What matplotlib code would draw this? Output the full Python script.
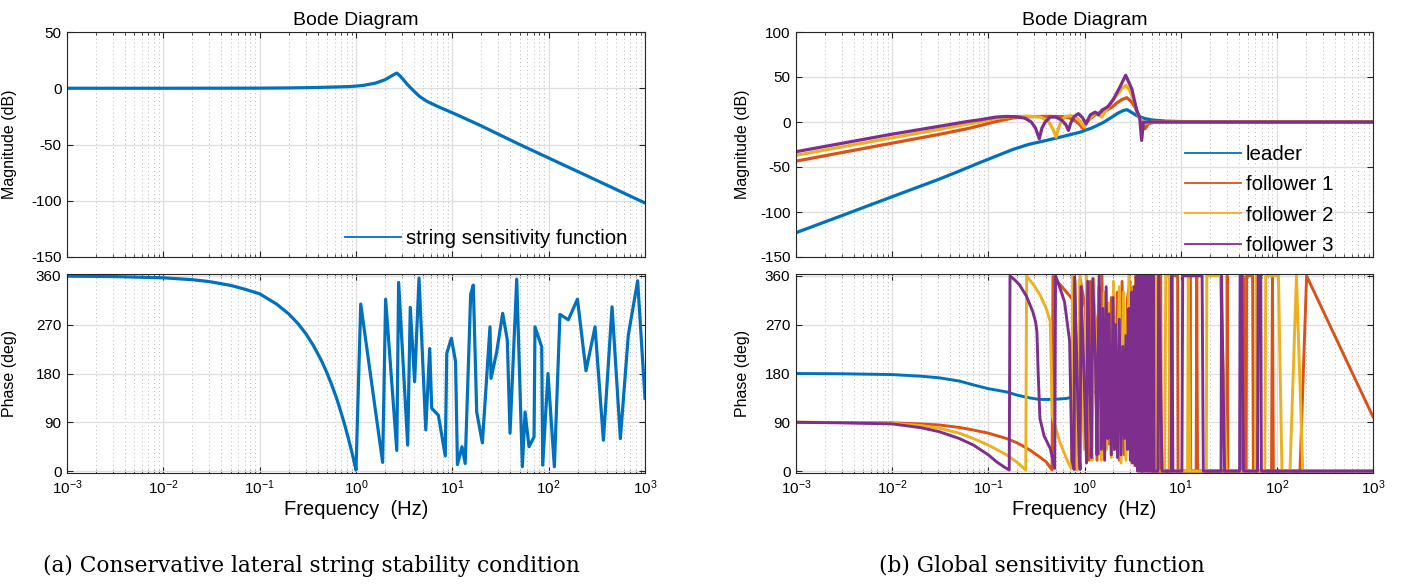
import matplotlib
matplotlib.use("Agg")
import matplotlib.pyplot as plt
from matplotlib.lines import Line2D
from matplotlib.ticker import LogLocator, NullFormatter, FixedLocator

# ---- left panel: string sensitivity function ----
SSF_MAG_F = [0.001, 0.01, 0.1, 0.2, 0.4, 0.8, 1.0, 1.2, 1.6, 2.0, 2.4, 2.65, 2.85, 3.1, 3.4,
             3.7, 4.1, 4.6, 5.5, 6.9, 8.5, 10, 12, 15, 20, 50, 100, 300, 1000]
SSF_MAG = [0, 0, 0.1, 0.3, 0.7, 1.4, 1.9, 2.6, 4.6, 7.6, 11.5, 13.5, 11.2, 7.7, 3.6,
           0.3, -3.5, -7.5, -11.8, -15.8, -19.2, -21.8, -24.8, -28.6, -33.5, -50, -62, -81, -102]

SSF_PH_F = [0.001, 0.003, 0.01, 0.02, 0.03, 0.05, 0.07, 0.1, 0.15, 0.2, 0.25, 0.3, 0.36, 0.44,
            0.5, 0.56, 0.63, 0.7, 0.77, 0.84, 0.9, 0.95, 1.0,
            1.12, 1.89, 2.03, 2.65, 2.77, 3.44, 3.66, 4.06, 4.51, 5.30, 5.82, 6.11, 7.16, 8.45,
            8.75, 9.77, 10.8, 11.3, 12.6, 13.6, 15.5, 16.5, 17.9, 20.5, 24.6, 25.2, 28.9, 33.3,
            37.2, 39.7, 46.6, 53.3, 56.9, 62.5, 70.5, 72.1, 84.7, 86.7, 98.4, 114.6, 131, 160,
            199, 244, 303, 370, 455, 555, 671, 839, 1000]
SSF_PH = [359.5, 358.8, 356.5, 353, 349.5, 342.5, 335.5, 327, 308, 290, 272, 254, 232, 203,
          181, 159, 134, 108, 83, 58, 37, 19, 2,
          308, 16, 317, 38, 348, 48, 302, 165, 356, 76, 226, 116, 103, 28,
          217, 245, 202, 12, 45, 14, 326, 343, 109, 52, 266, 171, 220, 291,
          242, 70, 354, 8, 109, 45, 63, 266, 229, 11, 180, 8, 289, 279,
          317, 185, 266, 57, 303, 60, 251, 351, 134]

# ---- right panel: global sensitivity function ----
SERIES = ["leader", "follower 1", "follower 2", "follower 3"]
COLORS = ["#0072BD", "#D95319", "#EDB120", "#7E2F8E"]

LEADER_MAG_F = [0.001, 0.003, 0.01, 0.03, 0.05, 0.082, 0.12, 0.18, 0.26, 0.4, 0.6, 0.9, 1.2,
                1.57, 1.9, 2.2, 2.5, 2.75, 3.0, 3.5, 4.2, 5.0, 7.0, 12, 20, 1000]
LEADER_MAG = [-123, -104, -83, -64, -54.5, -45, -38, -30.5, -25, -20.5, -16, -11.3, -6.5,
              -0.5, 5, 9.5, 12.5, 13.7, 11.5, 7, 4, 2.3, 1, 0.3, 0, 0]

F1_MAG_F = [0.001, 0.01, 0.03, 0.06, 0.082, 0.12, 0.18, 0.25, 0.4, 0.6, 0.7, 0.77, 0.88, 0.97,
            1.05, 1.14, 1.34, 1.70, 1.95, 2.16, 2.45, 2.75, 3.05, 3.35, 3.8, 4.26, 4.6, 5.3,
            1000]
F1_MAG = [-43.5, -23.5, -14, -7.5, -4, 0.5, 4.5, 5.8, 6.3, 6, 4.5, 2.5, -2, -7.5,
          -1, 3.7, 9.3, 13, 17, 21, 25, 27, 23, 16.6, 3, -7.5, -2, 0,
          0]

F2_MAG_F = [0.001, 0.01, 0.03, 0.05, 0.082, 0.12, 0.155, 0.25, 0.35, 0.42, 0.47, 0.506, 0.54,
            0.58, 0.63, 0.72, 0.81, 0.9, 0.99, 1.08, 1.29, 1.51, 1.77, 2.16, 2.45, 2.70, 2.95,
            3.21, 3.62, 4.08, 5.0, 1000]
F2_MAG = [-37, -17.5, -8.5, -4, 0, 4, 5.5, 6.5, 5.5, 1, -8, -16.8, -6,
          2, 6, 7, 5.5, 1, -5.7, 2, 10, 5.5, 16.6, 29.7, 37, 40.8, 35,
          26, 7.4, -2, 0, 0]

F3_MAG_F = [0.001, 0.01, 0.03, 0.06, 0.082, 0.12, 0.155, 0.2, 0.24, 0.28, 0.31, 0.339, 0.36,
            0.39, 0.44, 0.5, 0.58, 0.64, 0.68, 0.72, 0.78, 0.863, 0.95, 1.036, 1.15, 1.29, 1.4,
            1.51, 1.75, 1.99, 2.34, 2.68, 3.10, 3.49, 3.75, 3.93, 4.1, 4.8, 1000]
F3_MAG = [-33, -13.5, -5, 0.5, 2.5, 5.5, 6.2, 5.8, 4.2, 0, -7, -18.6, -7,
          0, 5.5, 5.5, 2, -3, -9.4, -1, 6, 9.3, 5, -2, 8, 11, 8,
          13, 17, 25, 39, 52, 37, 13, 5, -20.5, 0, 0, 0]

LEADER_PH_F = [0.001, 0.003, 0.01, 0.02, 0.031, 0.05, 0.07, 0.1, 0.155, 0.2, 0.27, 0.33, 0.40,
               0.5, 0.65, 0.8, 1.05, 1.3, 1.63, 2.0, 2.3, 2.6, 2.9, 3.2, 3.8, 5.0, 1000]
LEADER_PH = [180, 179.5, 178, 175, 172, 166, 159, 152, 146, 140, 135, 132.5, 132,
             132.5, 134, 138, 143, 146, 146, 138, 122, 98, 70, 42, 17, 0, 0]

F1_PH_F = [0.001, 0.003, 0.01, 0.02, 0.031, 0.05, 0.07, 0.1, 0.155, 0.2, 0.27, 0.33, 0.40, 0.46,
           0.47, 0.55, 0.63, 0.71, 0.79, 0.84, 0.88,
           0.9, 1.02, 1.08, 1.12, 1.15, 1.3, 1.35, 1.42, 1.48, 1.52, 1.6, 1.7, 1.8, 1.9, 2.0,
           2.2, 2.3, 2.46, 2.6, 2.8, 2.97, 3.1, 3.2, 3.3, 3.4, 3.5, 3.6, 3.7, 3.8, 3.95, 4.1,
           4.25, 4.4, 4.6, 4.8, 5.0, 5.9, 6.0, 6.2, 6.3, 7.6, 7.7, 9.3, 9.4, 12.3, 12.5, 12.7,
           14.5, 14.7, 15, 30, 30.5, 31, 44, 44.5, 46, 48, 48.5, 56, 57, 88, 90, 92, 174, 204,
           1000]
F1_PH = [90, 89.7, 89, 87, 85, 80.5, 75.7, 70, 60, 52, 39, 28, 17, 2,
         359, 345, 333, 322, 311, 150, 10,
         355, 300, 120, 20, 350, 280, 20, 340, 30, 360, 80, 300, 50, 320, 40,
         330, 20, 350, 30, 320, 350, 15, 340, 20, 360, 10, 330, 5, 360, 0, 350,
         5, 360, 0, 360, 0, 0, 360, 360, 0, 0, 360, 360, 0, 0, 360, 0,
         0, 360, 0, 0, 360, 0, 0, 360, 0, 0, 360, 360, 0, 0, 360, 0, 0, 360,
         100]

F2_PH_F = [0.001, 0.003, 0.01, 0.02, 0.031, 0.05, 0.07, 0.1, 0.155, 0.2, 0.245, 0.25, 0.3,
           0.344, 0.4, 0.44, 0.45, 0.46, 0.55, 0.67, 0.73,
           0.755, 0.80, 0.84, 0.9, 0.95, 1.0, 1.05, 1.15, 1.2, 1.25, 1.35, 1.4, 1.5, 1.6, 1.7,
           1.78, 1.9, 2.0, 2.15, 2.3, 2.4, 2.55, 2.7, 2.9, 3.05, 3.2, 3.3, 3.45, 3.6, 3.75, 3.9,
           4.05, 4.2, 4.4, 4.6, 5.4, 5.5, 5.7, 5.8, 6.8, 7.0, 7.6, 7.7, 11.8, 12.0, 12.5, 18.5,
           18.7, 25.8, 30, 60, 61, 63, 75, 76.7, 104, 113, 137, 160, 186, 1000]
F2_PH = [90, 89.5, 88, 84, 79, 70, 60, 48, 30, 16, 2, 360, 342,
         325, 300, 276, 200, 103, 55, 17, 5,
         360, 350, 2, 360, 120, 40, 360, 60, 20, 355, 70, 340, 20, 330, 40,
         310, 25, 350, 60, 340, 15, 330, 20, 360, 30, 340, 10, 360, 5, 360, 0,
         360, 0, 360, 0, 0, 360, 360, 0, 0, 360, 360, 0, 0, 360, 0, 0,
         360, 360, 0, 0, 360, 0, 0, 360, 360, 0, 0, 360, 0, 0]

F3_PH_F = [0.001, 0.003, 0.01, 0.02, 0.031, 0.05, 0.07, 0.1, 0.122, 0.145, 0.165,
           0.168, 0.19, 0.212, 0.25, 0.29, 0.31, 0.32, 0.33, 0.344, 0.38, 0.44, 0.47, 0.49,
           0.50, 0.56, 0.62, 0.70, 0.74, 0.78, 0.79, 0.88, 0.90, 0.92, 1.0, 1.05, 1.08, 1.18,
           1.22, 1.3, 1.35, 1.42, 1.5, 1.55, 1.62, 1.68, 1.75, 1.8, 1.9, 1.98, 2.05, 2.1, 2.2,
           2.3, 2.4, 2.5, 2.6, 2.7, 2.8, 2.9, 3.0, 3.1, 3.2, 3.3, 3.4, 3.5, 3.56, 3.62, 3.68,
           3.74, 3.8, 3.86, 3.92, 3.98, 4.04, 4.1, 4.16, 4.22, 4.28, 4.34, 4.4, 4.47, 4.54,
           4.61, 4.68, 4.75, 4.82, 4.9, 4.98, 5.06, 5.14, 5.22, 5.3, 5.8, 5.9, 6.4, 8.0, 8.1,
           8.3, 10.3, 10.5, 16.7, 17.2, 26.3, 26.6, 28.6, 41, 41.5, 43, 45, 63, 64, 68, 69,
           1000]
F3_PH = [90, 89, 87, 80, 72.6, 60, 48, 30, 17, 8, 2,
         360, 352, 343, 322, 294, 275, 257, 180, 97, 65, 42, 20, 5,
         360, 336, 312, 240, 20, 3, 358, 30, 3, 340, 150, 15, 350, 25,
         355, 200, 30, 360, 40, 300, 20, 340, 60, 290, 30, 320, 40, 270, 25,
         280, 30, 230, 60, 250, 40, 300, 20, 330, 15, 340, 10, 360, 0, 360, 0,
         360, 0, 360, 0, 360, 0, 360, 0, 360, 0, 360, 0, 360, 0,
         360, 0, 360, 0, 360, 0, 360, 0, 360, 0, 0, 360, 0, 0, 360,
         0, 0, 360, 360, 0, 0, 360, 0, 0, 360, 360, 0, 0, 360, 360, 0,
         0]

MAG_F = [LEADER_MAG_F, F1_MAG_F, F2_MAG_F, F3_MAG_F]
MAG = [LEADER_MAG, F1_MAG, F2_MAG, F3_MAG]
PH_F = [LEADER_PH_F, F1_PH_F, F2_PH_F, F3_PH_F]
PH = [LEADER_PH, F1_PH, F2_PH, F3_PH]

plt.rcParams["font.family"] = ["Liberation Sans", "DejaVu Sans"]
plt.rcParams["mathtext.fontset"] = "custom"
plt.rcParams["mathtext.rm"] = "Liberation Sans"
plt.rcParams["mathtext.it"] = "Liberation Sans"
plt.rcParams["axes.unicode_minus"] = False

W, H = 1411, 586
fig = plt.figure(figsize=(W / 100, H / 100), dpi=100)


def px_axes(x0, x1, y0, y1):
    return fig.add_axes([x0 / W, 1 - y1 / H, (x1 - x0) / W, (y1 - y0) / H])


def style(ax, bottom):
    ax.set_xscale("log")
    ax.set_xlim(1e-3, 1e3)
    ax.xaxis.set_major_locator(FixedLocator([1e-3, 1e-2, 1e-1, 1, 10, 100, 1000]))
    ax.xaxis.set_minor_locator(LogLocator(base=10, subs=range(2, 10), numticks=20))
    ax.xaxis.set_minor_formatter(NullFormatter())
    if bottom:
        ax.set_xticklabels([r"$10^{-3}$", r"$10^{-2}$", r"$10^{-1}$", r"$10^{0}$",
                            r"$10^{1}$", r"$10^{2}$", r"$10^{3}$"])
    else:
        ax.set_xticklabels([])
    ax.tick_params(which="both", direction="in", top=True, right=True, labelsize=11,
                   color="#262626", pad=4)
    ax.tick_params(which="major", length=4.5, width=0.8)
    ax.tick_params(which="minor", length=2.5, width=0.6)
    ax.grid(True, which="major", color="#dedede", lw=0.9)
    ax.grid(True, which="minor", axis="x", color="#b8b8b8", lw=0.7, ls=(0, (1, 3)))
    ax.set_axisbelow(True)
    for s in ax.spines.values():
        s.set_color("#262626")
        s.set_linewidth(0.8)


panels = [(67, 645), (796, 1373)]
for i, (x0, x1) in enumerate(panels):
    axm = px_axes(x0, x1, 32, 257)
    axp = px_axes(x0, x1, 274, 473)
    style(axm, False)
    style(axp, True)
    axm.set_title("Bode Diagram", fontsize=14, pad=5)
    axm.set_ylabel("Magnitude (dB)", fontsize=11.5)
    axp.set_ylabel("Phase (deg)", fontsize=11.5)
    axp.set_xlabel("Frequency  (Hz)", fontsize=14.5, labelpad=2)
    axp.set_ylim(-3.5, 363.5)
    axp.set_yticks([0, 90, 180, 270, 360])
    if i == 0:
        axm.set_ylim(-150, 50)
        axm.set_yticks([-150, -100, -50, 0, 50])
        axm.plot(SSF_MAG_F, SSF_MAG, color=COLORS[0], lw=2.3, solid_joinstyle="round")
        axp.plot(SSF_PH_F, SSF_PH, color=COLORS[0], lw=2.3, solid_joinstyle="round")
        handles = [Line2D([], [], color=COLORS[0], lw=1.3)]
        axm.legend(handles, ["string sensitivity function"], loc="upper left",
                   bbox_to_anchor=((345 - x0) / (x1 - x0), (257 - 229) / 225),
                   frameon=False, fontsize=14.8, handlelength=2.7, handletextpad=0.25,
                   borderpad=0, borderaxespad=0)
    else:
        axm.set_ylim(-150, 100)
        axm.set_yticks([-150, -100, -50, 0, 50, 100])
        for f, m, c in zip(MAG_F, MAG, COLORS):
            axm.plot(f, m, color=c, lw=2.3, solid_joinstyle="round")
        for f, p, c in zip(PH_F, PH, COLORS):
            axp.plot(f, p, color=c, lw=2.1, solid_joinstyle="round")
        handles = [Line2D([], [], color=c, lw=1.3) for c in COLORS]
        axm.legend(handles, SERIES, loc="upper left",
                   bbox_to_anchor=((1185 - x0) / (x1 - x0), (257 - 145) / 225),
                   frameon=False, fontsize=14.8, handlelength=2.7, handletextpad=0.25,
                   borderpad=0, borderaxespad=0, labelspacing=0.55)
    axm.yaxis.set_label_coords(-0.087 if i == 0 else -0.08, 0.5)
    axp.yaxis.set_label_coords(-0.087 if i == 0 else -0.08, 0.5)

cap_font = ["DejaVu Serif"]
fig.text(311 / W, 1 - 566 / H, "(a) Conservative lateral string stability condition",
         ha="center", va="center", fontsize=15.6, family=cap_font)
fig.text(1042 / W, 1 - 566 / H, "(b) Global sensitivity function",
         ha="center", va="center", fontsize=15.6, family=cap_font)

fig.savefig("out.png", dpi=100)
